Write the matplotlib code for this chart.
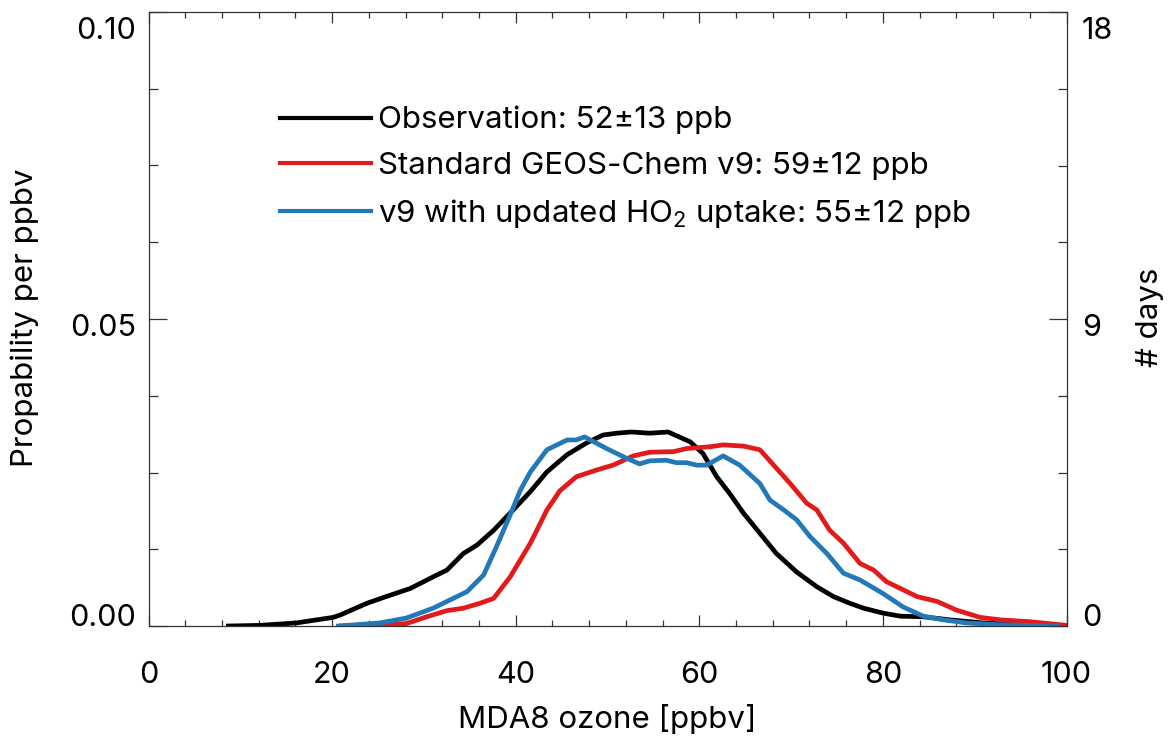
import matplotlib
matplotlib.use("Agg")
import matplotlib.pyplot as plt
from matplotlib.ticker import MultipleLocator, FixedLocator
import matplotlib.transforms as mtrans

FONT = 'Inter'
plt.rcParams['font.family'] = [FONT, 'DejaVu Sans']
plt.rcParams['mathtext.fontset'] = 'custom'
plt.rcParams['mathtext.rm'] = FONT
plt.rcParams['mathtext.default'] = 'regular'

# ---- data ----
obs_x = [8.7, 12.1, 16.1, 20.1, 20.9, 23.8, 25.9, 28.5, 31.0, 32.5, 34.3, 35.8, 37.6, 39.4,
         41.6, 43.4, 45.6, 47.7, 49.5, 51.0, 52.6, 54.6, 56.6, 59.0, 60.4, 61.9, 63.3, 64.8,
         66.6, 68.4, 70.6, 72.8, 74.6, 76.4, 77.9, 80.0, 81.9, 84.4, 87.3, 90.9, 94.6, 99.0]
obs_y = [0.0, 0.0001, 0.0005, 0.0014, 0.0018, 0.0037, 0.0048, 0.0061, 0.0080, 0.0091, 0.0118,
         0.0132, 0.0156, 0.0184, 0.0219, 0.0251, 0.0279, 0.0298, 0.0311, 0.0314, 0.0316, 0.0314,
         0.0316, 0.0300, 0.0281, 0.0243, 0.0216, 0.0184, 0.0151, 0.0118, 0.0088, 0.0064, 0.0048,
         0.0037, 0.0029, 0.0021, 0.0016, 0.0015, 0.0010, 0.0005, 0.0003, 0.0001]

std_x = [21.0, 25.6, 28.1, 30.3, 32.5, 34.3, 36.1, 37.6, 39.4, 41.6, 43.4, 44.8, 46.6, 48.8,
         50.6, 52.8, 54.6, 57.2, 58.6, 61.2, 62.6, 64.8, 66.6, 68.1, 69.9, 71.7, 72.8, 74.2,
         75.7, 77.5, 79.0, 80.4, 82.2, 83.7, 85.9, 88.0, 90.6, 92.8, 96.0, 98.0, 100.0]
std_y = [0.0, 0.0002, 0.0004, 0.0015, 0.0025, 0.0029, 0.0037, 0.0045, 0.0080, 0.0135, 0.0189,
         0.0220, 0.0243, 0.0254, 0.0262, 0.0277, 0.0283, 0.0284, 0.0289, 0.0292, 0.0295, 0.0293,
         0.0287, 0.0262, 0.0232, 0.0200, 0.0189, 0.0156, 0.0135, 0.0102, 0.0091, 0.0072, 0.0059,
         0.0048, 0.0040, 0.0026, 0.0014, 0.0010, 0.0007, 0.0004, 0.0001]

upd_x = [20.7, 25.2, 28.1, 31.0, 33.2, 34.7, 36.5, 37.9, 39.4, 40.5, 41.6, 43.4, 45.6, 46.6,
         47.5, 49.9, 52.1, 53.5, 54.6, 56.4, 57.5, 58.6, 59.7, 60.8, 62.6, 64.4, 66.6, 67.7,
         69.2, 70.6, 72.1, 73.9, 75.7, 77.5, 80.0, 82.2, 84.4, 86.6, 89.1, 92.8, 99.0]
upd_y = [0.0, 0.0005, 0.0013, 0.0029, 0.0045, 0.0056, 0.0083, 0.0129, 0.0181, 0.0221, 0.0251,
         0.0287, 0.0303, 0.0303, 0.0308, 0.0289, 0.0273, 0.0264, 0.0269, 0.0270, 0.0266, 0.0266,
         0.0262, 0.0262, 0.0277, 0.0262, 0.0232, 0.0205, 0.0189, 0.0173, 0.0145, 0.0118, 0.0086,
         0.0075, 0.0053, 0.0031, 0.0016, 0.0010, 0.0005, 0.0002, 0.0]

labels = ["Observation: 52\u00b113 ppb",
          "Standard GEOS-Chem v9: 59\u00b112 ppb",
          "v9 with updated HO$_2$ uptake: 55\u00b112 ppb"]
colors = ["#000000", "#E31A1C", "#2379B7"]

left_ticks = [0.00, 0.05, 0.10]
left_ticklabels = ["0.00", "0.05", "0.10"]
right_ticks = [0, 9, 18]
right_ticklabels = ["0", "9", "18"]
x_ticks = [0, 20, 40, 60, 80, 100]

FS = 22
LFS = 22.5

# ---- figure ----
W, H = 1169, 742
fig = plt.figure(figsize=(W / 100, H / 100), dpi=100)
x0, x1, y0, y1 = 148.5, 1066.5, 12, 626
ax = fig.add_axes([x0 / W, 1 - y1 / H, (x1 - x0) / W, (y1 - y0) / H])

lw = 3.4
for xs, ys, c, lab in zip([obs_x, std_x, upd_x], [obs_y, std_y, upd_y], colors, labels):
    ax.plot(xs, ys, color=c, lw=lw, label=lab, solid_joinstyle='round')

ax.set_xlim(0, 100)
ax.set_ylim(0, 0.10)

spine_c = "#333333"
for s in ax.spines.values():
    s.set_color(spine_c)
    s.set_linewidth(0.9)

ax.xaxis.set_major_locator(FixedLocator(x_ticks))
ax.xaxis.set_minor_locator(MultipleLocator(4))
ax.set_xticklabels([str(t) for t in x_ticks])
ax.yaxis.set_major_locator(FixedLocator(left_ticks))
ax.yaxis.set_minor_locator(MultipleLocator(0.0125))
ax.set_yticklabels(left_ticklabels)

ax.tick_params(axis='x', which='major', direction='in', length=8, width=0.9, color=spine_c,
               top=True, labelsize=FS, pad=25)
ax.tick_params(axis='x', which='minor', direction='in', length=4.3, width=0.9, color=spine_c, top=True)
ax.tick_params(axis='y', which='major', direction='in', length=13, width=0.9, color=spine_c,
               labelsize=FS, pad=9)
ax.tick_params(axis='y', which='minor', direction='in', length=6.5, width=0.9, color=spine_c)

ax2 = ax.twinx()
ax2.set_ylim(0, 18)
ax2.yaxis.set_major_locator(FixedLocator(right_ticks))
ax2.yaxis.set_minor_locator(MultipleLocator(2.25))
ax2.set_yticklabels(right_ticklabels)
ax2.tick_params(axis='y', which='major', direction='in', length=13, width=0.9, color=spine_c,
                labelsize=FS, pad=11)
ax2.tick_params(axis='y', which='minor', direction='in', length=6.5, width=0.9, color=spine_c)
for s in ax2.spines.values():
    s.set_visible(False)

# shift tick labels vertically as in reference (IDL style)
offs = {0: 11, 1: -6, 2: -16}
for axis_obj in (ax.yaxis, ax2.yaxis):
    for i, lab in enumerate(axis_obj.get_ticklabels()):
        lab.set_transform(lab.get_transform() +
                          mtrans.ScaledTranslation(0, offs[i] / 100, fig.dpi_scale_trans))

ax.set_xlabel("MDA8 ozone [ppbv]", fontsize=FS + 0.5, labelpad=11)
fig.text(25 / W, 1 - 318 / H, "Propability per ppbv", rotation=90, fontsize=FS + 0.5,
         ha='center', va='center')
fig.text(1150 / W, 1 - 317 / H, "# days", rotation=90, fontsize=FS + 0.5, ha='center', va='center')

leg = ax.legend(loc='upper left', bbox_to_anchor=(280 / W, 1 - 106 / H),
                bbox_transform=fig.transFigure, frameon=False, fontsize=LFS,
                handlelength=2.9, handletextpad=0.25, labelspacing=0.55,
                borderpad=0, borderaxespad=0)
for h in leg.get_lines():
    h.set_linewidth(3.0)

fig.savefig("out.png", dpi=100)
